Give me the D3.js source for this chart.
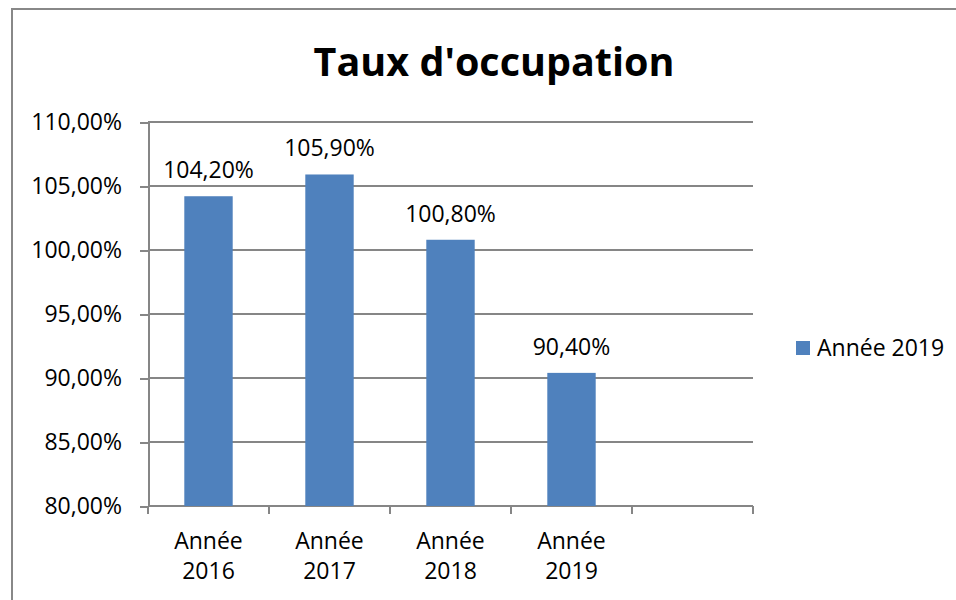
<!doctype html>
<html>
<head>
<meta charset="utf-8">
<title>Taux d'occupation</title>
<script src="https://d3js.org/d3.v7.min.js"></script>
<style>
  body { margin: 0; background: #fff; }
  svg { display: block; font-family: "Open Sans", sans-serif; }
  .axis path, .axis line { stroke: #868686; stroke-width: 2; shape-rendering: crispEdges; }
  .grid line { stroke: #868686; stroke-width: 2; shape-rendering: crispEdges; }
</style>
</head>
<body>
<script>
var categories = ["Année 2016", "Année 2017", "Année 2018", "Année 2019", ""];
var values = [104.2, 105.9, 100.8, 90.4];
var yTicks = [80, 85, 90, 95, 100, 105, 110];
var seriesName = "Année 2019";

var W = 956, H = 600;
var margin = {top: 122, right: 203, bottom: 94, left: 148};
var width = W - margin.left - margin.right,
    height = H - margin.top - margin.bottom;

var svg = d3.select("body").append("svg").attr("width", W).attr("height", H);

// chart border
svg.append("rect").attr("x", 12).attr("y", 9).attr("width", 960).attr("height", 620)
  .attr("fill", "none").attr("stroke", "#888").attr("stroke-width", 2);

svg.append("text").attr("x", 494).attr("y", 76).attr("text-anchor", "middle")
  .attr("font-size", 39.5).attr("font-weight", "bold").attr("fill", "#000")
  .text("Taux d'occupation");

var g = svg.append("g").attr("transform", "translate(" + margin.left + "," + margin.top + ")");

var x = d3.scaleBand().domain(d3.range(categories.length)).range([0, width]);
var y = d3.scaleLinear().domain([80, 110]).range([height, 0]);

g.append("g").attr("class", "grid")
  .selectAll("line").data(yTicks.slice(1)).enter().append("line")
  .attr("x1", 0).attr("x2", width)
  .attr("y1", function(d) { return y(d); }).attr("y2", function(d) { return y(d); });

var yaxis = g.append("g").attr("class", "axis")
  .call(d3.axisLeft(y).tickValues(yTicks).tickSize(8).tickSizeOuter(0)
    .tickFormat(function(d) { return d3.format(".2f")(d).replace(".", ",") + "%"; }));
yaxis.selectAll("text").attr("font-size", 23).attr("fill", "#000").attr("x", -26)
  .attr("font-family", "Open Sans");

// x axis with ticks at band boundaries
var xaxis = g.append("g").attr("class", "axis").attr("transform", "translate(0," + height + ")");
xaxis.append("line").attr("x1", 0).attr("x2", width).attr("y1", 0).attr("y2", 0);
xaxis.selectAll(".tk").data(d3.range(categories.length + 1)).enter().append("line").attr("class", "tk")
  .attr("x1", function(i) { return i * x.bandwidth(); })
  .attr("x2", function(i) { return i * x.bandwidth(); })
  .attr("y1", 0).attr("y2", 8);
var lbl = xaxis.selectAll(".lbl").data(categories).enter().append("text").attr("class", "lbl")
  .attr("text-anchor", "middle").attr("font-size", 23).attr("fill", "#000")
  .attr("transform", function(d, i) { return "translate(" + (x(i) + x.bandwidth() / 2) + ",0)"; });
lbl.selectAll("tspan").data(function(d) { return d ? d.split(" ") : []; }).enter().append("tspan")
  .attr("x", 0).attr("y", function(d, j) { return 43 + j * 30; }).text(function(d) { return d; });

var barW = x.bandwidth() * 0.4;
g.selectAll(".bar").data(values).enter().append("rect").attr("class", "bar")
  .attr("x", function(d, i) { return x(i) + (x.bandwidth() - barW) / 2; })
  .attr("width", barW)
  .attr("y", function(d) { return y(d); })
  .attr("height", function(d) { return height - y(d); })
  .attr("fill", "#4F81BD");

g.selectAll(".val").data(values).enter().append("text").attr("class", "val")
  .attr("x", function(d, i) { return x(i) + x.bandwidth() / 2; })
  .attr("y", function(d) { return y(d) - 18; })
  .attr("text-anchor", "middle").attr("font-size", 23).attr("fill", "#000")
  .text(function(d) { return d3.format(".2f")(d).replace(".", ",") + "%"; });

var leg = svg.append("g").attr("transform", "translate(796,341)");
leg.append("rect").attr("width", 14).attr("height", 14).attr("fill", "#4F81BD");
leg.append("text").attr("x", 21).attr("y", 15).attr("font-size", 23).attr("fill", "#000").text(seriesName);
</script>
</body>
</html>
